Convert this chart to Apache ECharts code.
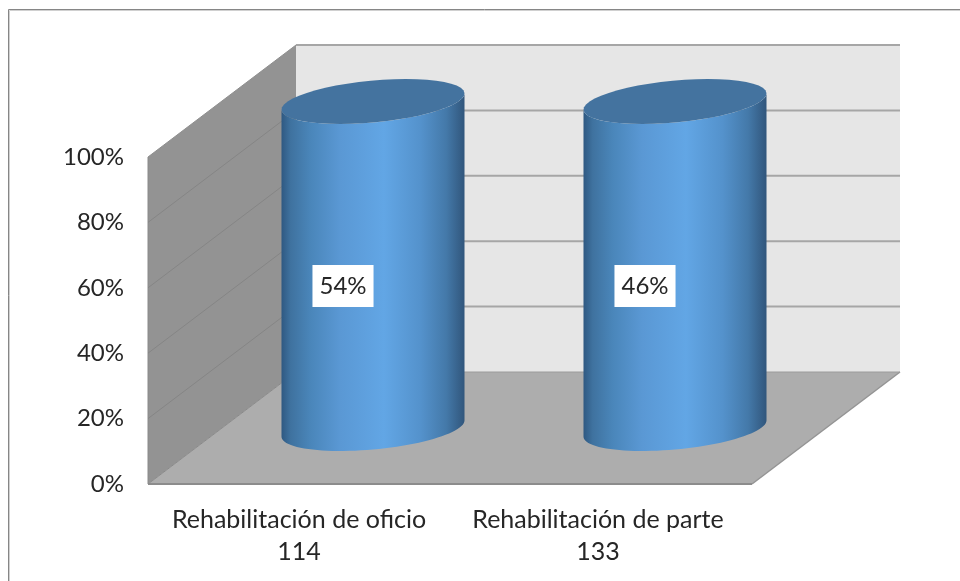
<!DOCTYPE html>
<html>
<head>
<meta charset="utf-8">
<title>Rehabilitación</title>
<style>
  html, body { margin: 0; padding: 0; background: #fff; }
  #chart { width: 960px; height: 581px; }
</style>
<script src="https://cdn.jsdelivr.net/npm/echarts@6/dist/echarts.min.js"></script>
</head>
<body>
<div id="chart"></div>
<script>
const categories = ['Rehabilitación de oficio', 'Rehabilitación de parte'];
const counts = [114, 133];
const barValues = [100, 100];
const percentLabels = ['54%', '46%'];
const yTicks = [0, 20, 40, 60, 80, 100];

// profundidad de la caja 3D
const depthX = 148;
const depthY = 112;
const fontName = 'Lato, "Noto Sans", sans-serif';

const bodyGradient = new echarts.graphic.LinearGradient(0, 0, 1, 0, [
  { offset: 0, color: '#2f5982' },
  { offset: 0.05, color: '#3f729f' },
  { offset: 0.16, color: '#4a86ba' },
  { offset: 0.32, color: '#5a98d4' },
  { offset: 0.56, color: '#62a6e5' },
  { offset: 0.76, color: '#5492cc' },
  { offset: 0.9, color: '#4479a9' },
  { offset: 1, color: '#31567c' }
]);

function line(x1, y1, x2, y2, color, width) {
  return {
    type: 'line',
    shape: { x1, y1, x2, y2 },
    style: { stroke: color, lineWidth: width }
  };
}

function poly(points, fill) {
  return { type: 'polygon', shape: { points }, style: { fill } };
}

function renderRoom(params, api) {
  const tick = api.value(1);
  const cs = params.coordSys;
  const left = cs.x;
  const right = cs.x + cs.width;
  const y = api.coord([0, tick])[1];
  const children = [];
  if (tick === 0) {
    const topY = api.coord([0, 100])[1];
    children.push(poly([[left, topY], [left + depthX, topY - depthY], [left + depthX, y - depthY], [left, y]], '#939393'));
    children.push(poly([[left + depthX, topY - depthY], [right + depthX, topY - depthY], [right + depthX, y - depthY], [left + depthX, y - depthY]], '#e6e6e6'));
    children.push(poly([[left, y], [left + depthX, y - depthY], [right + depthX, y - depthY], [right, y]], '#adadad'));
    children.push(line(left, topY, left, y, '#8a8a8a', 1));
    children.push(line(left, y, right, y, '#8c8c8c', 2));
    children.push(line(right, y, right + depthX, y - depthY, '#949494', 1.5));
    children.push(line(left, y, left + depthX, y - depthY, '#8a8a8a', 1));
    children.push(line(left + depthX, y - depthY, right + depthX, y - depthY, '#9c9c9c', 1));
  } else {
    children.push(line(left + depthX, y - depthY, right + depthX, y - depthY, '#a6a6a6', 2));
    children.push(line(left, y, left + depthX, y - depthY, tick === 100 ? '#8f8f8f' : '#858585', 1));
  }
  return { type: 'group', children };
}

function ellipsePoint(c, R, dx, dy, t) {
  return [c[0] + Math.cos(t) * R + Math.sin(t) * dx, c[1] + Math.sin(t) * dy];
}

function arc(c, R, dx, dy, from, to) {
  const pts = [];
  for (let i = 0; i <= 48; i++) {
    pts.push(ellipsePoint(c, R, dx, dy, from + (to - from) * i / 48));
  }
  return pts;
}

function renderCylinder(params, api) {
  const idx = params.dataIndex;
  const base = api.coord([api.value(0), 0]);
  const top = api.coord([api.value(0), api.value(1)]);
  const halfW = api.size([1, 0])[0] * 0.303;
  // el cilindro queda a media profundidad
  const cx = depthX / 2;
  const cy = depthY / 2;
  const b = [base[0] + cx, base[1] - cy + 0.5];
  const t = [top[0] + cx, top[1] - cy + 0.5];
  const dy = -22.5;
  const dx = halfW * 0.36;
  const R = Math.sqrt(halfW * halfW - dx * dx);
  const t0 = Math.atan2(dx, R);
  const lower = arc(b, R, dx, dy, t0, t0 - Math.PI);
  const upper = arc(t, R, dx, dy, t0 - Math.PI, t0);
  return {
    type: 'group',
    children: [
      poly(lower.concat(upper), bodyGradient),
      poly(arc(t, R, dx, dy, 0, Math.PI * 2), '#44739f'),
      {
        type: 'text',
        style: {
          text: percentLabels[idx],
          x: t[0] - 30,
          y: (b[1] + t[1]) / 2 + 21,
          align: 'center',
          verticalAlign: 'middle',
          font: '24px ' + fontName,
          fill: '#262626',
          backgroundColor: '#fff',
          padding: [9, 7, 9, 7]
        }
      }
    ]
  };
}

const myChart = echarts.init(document.getElementById('chart'), null, { renderer: 'canvas' });

myChart.setOption({
  animation: false,
  backgroundColor: '#fff',
  grid: { left: 148, right: 208, top: 157, bottom: 97 },
  xAxis: {
    type: 'category',
    data: categories.map((c, i) => c + '\n' + counts[i]),
    axisLine: { show: false },
    axisTick: { show: false },
    axisLabel: {
      margin: 20,
      interval: 0,
      // la segunda etiqueta va un poco a la izquierda del centro
      formatter: (value, index) => value.split('\n').map(s => (index === 1 ? '{b|' : '{a|') + s + '}').join('\n'),
      rich: {
        a: { color: '#262626', fontFamily: fontName, fontSize: 25, lineHeight: 32 },
        b: { color: '#262626', fontFamily: fontName, fontSize: 25, lineHeight: 32, padding: [0, 6, 0, 0] }
      }
    }
  },
  yAxis: {
    type: 'value',
    min: 0,
    max: 100,
    interval: 20,
    axisLine: { show: false },
    axisTick: { show: false },
    splitLine: { show: false },
    axisLabel: {
      margin: 24,
      color: '#262626',
      fontFamily: fontName,
      fontSize: 24,
      padding: [3, 0, 0, 0],
      formatter: '{value}%'
    }
  },
  graphic: [
    { type: 'polyline', silent: true, shape: { points: [[8.5, 581], [8.5, 9.5], [960, 9.5]] }, style: { fill: 'none', stroke: '#868686', lineWidth: 1 } },
    { type: 'polyline', silent: true, shape: { points: [[9.5, 581], [9.5, 10.5], [960, 10.5]] }, style: { fill: 'none', stroke: '#d0d0d0', lineWidth: 1 } }
  ],
  series: [
    {
      type: 'custom',
      silent: true,
      z: 1,
      renderItem: renderRoom,
      encode: { x: 0, y: 1 },
      data: yTicks.map(v => [0, v])
    },
    {
      type: 'custom',
      silent: true,
      z: 2,
      renderItem: renderCylinder,
      encode: { x: 0, y: 1 },
      data: barValues.map((v, i) => [i, v])
    }
  ]
});
</script>
</body>
</html>
